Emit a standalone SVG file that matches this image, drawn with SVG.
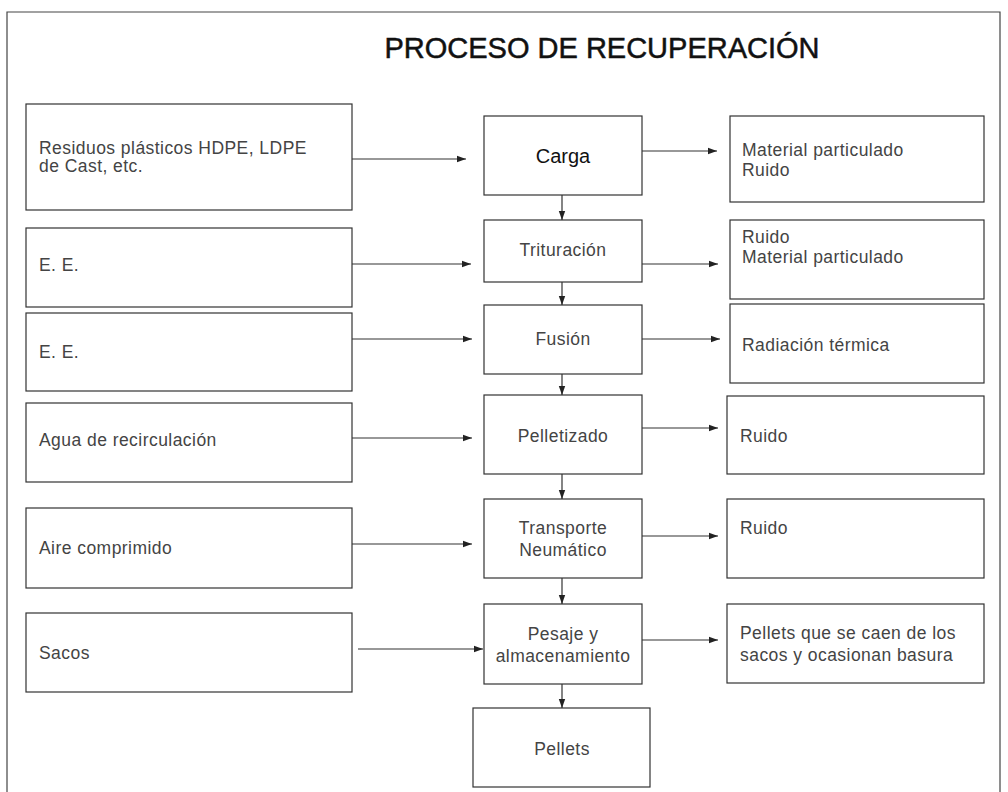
<svg xmlns="http://www.w3.org/2000/svg" width="1008" height="792" viewBox="0 0 1008 792">
<defs>
<marker id="ah" markerWidth="10" markerHeight="8" refX="9" refY="4" orient="auto" markerUnits="userSpaceOnUse">
<path d="M0,0.8 L9,4 L0,7.2 Z" fill="#222"/>
</marker>
<style>
.b{fill:#fff;stroke:#333;stroke-width:1.2}
.t{font-family:"Liberation Sans",Arial,sans-serif;font-size:17.5px;fill:#444;letter-spacing:0.45px}
.c{text-anchor:middle}
.k{stroke:#333;stroke-width:1.2;fill:none;marker-end:url(#ah)}
</style>
</defs>
<rect width="1008" height="792" fill="#fff"/>
<path d="M7,792 V12 H1000 V792" fill="none" stroke="#444" stroke-width="1.2"/>
<text x="602" y="58" text-anchor="middle" font-family="Liberation Sans,Arial,sans-serif" font-size="29" fill="#111" stroke="#111" stroke-width="0.5">PROCESO DE RECUPERACIÓN</text>

<g id="in1"><rect class="b" x="26" y="104" width="326" height="106"/><text class="t" x="39" y="154">Residuos plásticos HDPE, LDPE</text><text class="t" x="39" y="172">de Cast, etc.</text></g>
<g id="in2"><rect class="b" x="26" y="228" width="326" height="79"/><text class="t" x="39" y="271">E. E.</text></g>
<g id="in3"><rect class="b" x="26" y="313" width="326" height="78"/><text class="t" x="39" y="358">E. E.</text></g>
<g id="in4"><rect class="b" x="26" y="403" width="326" height="79"/><text class="t" x="39" y="446">Agua de recirculación</text></g>
<g id="in5"><rect class="b" x="26" y="508" width="326" height="80"/><text class="t" x="39" y="554">Aire comprimido</text></g>
<g id="in6"><rect class="b" x="26" y="613" width="326" height="79"/><text class="t" x="39" y="659">Sacos</text></g>

<g id="carga"><rect class="b" x="484" y="116" width="158" height="79"/><text x="563" y="163" text-anchor="middle" font-family="Liberation Sans,Arial,sans-serif" font-size="20" fill="#111">Carga</text></g>
<g id="trituracion"><rect class="b" x="484" y="220" width="158" height="62"/><text class="t c" x="563" y="256">Trituración</text></g>
<g id="fusion"><rect class="b" x="484" y="305" width="158" height="69"/><text class="t c" x="563" y="345">Fusión</text></g>
<g id="pelletizado"><rect class="b" x="484" y="395" width="158" height="79"/><text class="t c" x="563" y="442">Pelletizado</text></g>
<g id="transporte"><rect class="b" x="484" y="499" width="158" height="79"/><text class="t c" x="563" y="534">Transporte</text><text class="t c" x="563" y="556">Neumático</text></g>
<g id="pesaje"><rect class="b" x="484" y="604" width="158" height="80"/><text class="t c" x="563" y="640">Pesaje y</text><text class="t c" x="563" y="662">almacenamiento</text></g>
<g id="pellets"><rect class="b" x="473" y="708" width="177" height="79"/><text class="t c" x="562" y="755">Pellets</text></g>

<g id="out1"><rect class="b" x="730" y="116" width="254" height="86"/><text class="t" x="742" y="156">Material particulado</text><text class="t" x="742" y="176">Ruido</text></g>
<g id="out2"><rect class="b" x="730" y="220" width="254" height="79"/><text class="t" x="742" y="243">Ruido</text><text class="t" x="742" y="263">Material particulado</text></g>
<g id="out3"><rect class="b" x="730" y="304" width="254" height="79"/><text class="t" x="742" y="351">Radiación térmica</text></g>
<g id="out4"><rect class="b" x="727" y="396" width="257" height="78"/><text class="t" x="740" y="442">Ruido</text></g>
<g id="out5"><rect class="b" x="727" y="499" width="257" height="79"/><text class="t" x="740" y="534">Ruido</text></g>
<g id="out6"><rect class="b" x="727" y="604" width="257" height="79"/><text class="t" x="740" y="639">Pellets que se caen de los</text><text class="t" x="740" y="661">sacos y ocasionan basura</text></g>

<g id="connectors">
<path class="k" d="M352,159 H466"/>
<path class="k" d="M352,264 H471"/>
<path class="k" d="M352,339 H472"/>
<path class="k" d="M352,438 H472"/>
<path class="k" d="M352,544 H472"/>
<path class="k" d="M358,649 H483"/>
<path class="k" d="M642,151 H717"/>
<path class="k" d="M642,264 H718"/>
<path class="k" d="M642,339 H720"/>
<path class="k" d="M642,428 H718"/>
<path class="k" d="M642,536 H718"/>
<path class="k" d="M642,640 H718"/>
<path class="k" d="M562,195 V220"/>
<path class="k" d="M562,282 V305"/>
<path class="k" d="M562,374 V395"/>
<path class="k" d="M562,474 V499"/>
<path class="k" d="M562,578 V604"/>
<path class="k" d="M562,684 V708"/>
</g>
</svg>
